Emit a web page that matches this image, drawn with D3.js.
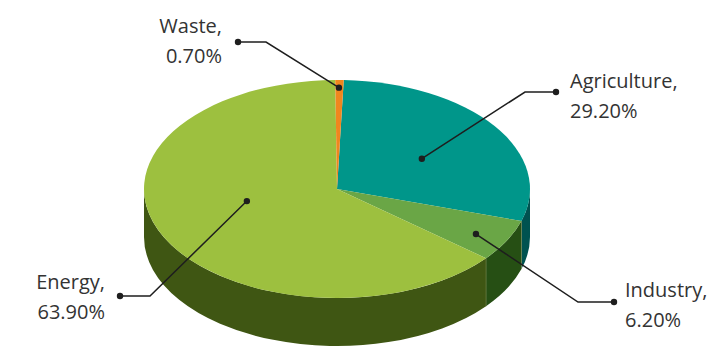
<!DOCTYPE html>
<html>
<head>
<meta charset="utf-8">
<script src="https://cdn.jsdelivr.net/npm/d3@7/dist/d3.min.js"></script>
<style>
  html, body { margin: 0; padding: 0; background: #ffffff; }
  svg { display: block; }
</style>
</head>
<body>
<div id="chart"></div>
<script>
// ---- data ----
const categories = ["Agriculture", "Industry", "Energy", "Waste"];
const shares = [29.2, 6.2, 63.9, 0.7];
const valueLabels = ["29.20%", "6.20%", "63.90%", "0.70%"];

// ---- styles ----
const topColors  = ["#00968a", "#6aa646", "#9dc03f", "#f0861e"];
const sideColors = ["#005250", "#264f14", "#3f5613", "#8a4a10"];

// ---- layout ----
const W = 709, H = 350;
const cx = 337, cy = 189, rx = 193, ry = 109, depth = 48;
const startDeg = 2;

// callout layout per slice: anchor (fraction of slice angle, radial fraction), elbow, end, text
const callouts = [
  { af: 0.53, rf: 0.52, elbow: [525, 92],  end: [556, 92],  tx: 570, ty: 88,  anchor: "start" },
  { af: 0.57, rf: 0.83, elbow: [578, 302], end: [614, 302], tx: 625, ty: 297, anchor: "start" },
  { af: 0.553, rf: 0.48, elbow: [150, 296], end: [120, 296], tx: 105, ty: 289, anchor: "end" },
  { af: 0.45, rf: 0.93, elbow: [266, 42],  end: [238, 42],  tx: 222, ty: 33,  anchor: "end" }
];

const svg = d3.select("#chart").append("svg").attr("width", W).attr("height", H);

const pie = d3.pie().sort(null)
  .startAngle(startDeg * Math.PI / 180)
  .endAngle(startDeg * Math.PI / 180 + 2 * Math.PI);
const arcs = pie(shares);

const pt = (a, r = 1, dy = 0) => [cx + rx * r * Math.sin(a), cy - ry * r * Math.cos(a) + dy];

function topPath(a0, a1) {
  const p0 = pt(a0), p1 = pt(a1);
  const large = (a1 - a0) > Math.PI ? 1 : 0;
  return `M${cx},${cy}L${p0[0]},${p0[1]}A${rx},${ry} 0 ${large} 1 ${p1[0]},${p1[1]}Z`;
}
function sidePath(a0, a1) {
  const p0 = pt(a0), p1 = pt(a1), q1 = pt(a1, 1, depth), q0 = pt(a0, 1, depth);
  const large = (a1 - a0) > Math.PI ? 1 : 0;
  return `M${p0[0]},${p0[1]}A${rx},${ry} 0 ${large} 1 ${p1[0]},${p1[1]}` +
         `L${q1[0]},${q1[1]}A${rx},${ry} 0 ${large} 0 ${q0[0]},${q0[1]}Z`;
}

// front side faces (visible between 90deg and 270deg)
const lo = Math.PI / 2, hi = 3 * Math.PI / 2;
const sides = svg.append("g");
arcs.forEach((d, i) => {
  const segs = [];
  for (const k of [0, 2 * Math.PI]) {
    const a0 = Math.max(d.startAngle, lo + k), a1 = Math.min(d.endAngle, hi + k);
    if (a1 > a0) segs.push([a0, a1]);
  }
  segs.forEach(([a0, a1]) => {
    sides.append("path").attr("d", sidePath(a0, a1)).attr("fill", sideColors[i]);
    // thin light edge at slice boundary on side
    const b = pt(a0), bb = pt(a0, 1, depth);
    if (a0 > lo + 0.001 && a0 < hi - 0.001) {
      sides.append("line").attr("x1", b[0]).attr("y1", b[1]).attr("x2", bb[0]).attr("y2", bb[1])
        .attr("stroke", "#7a8a50").attr("stroke-width", 0.8).attr("opacity", 0.7);
    }
  });
});

// top faces
const tops = svg.append("g");
arcs.forEach((d, i) => {
  tops.append("path").attr("d", topPath(d.startAngle, d.endAngle)).attr("fill", topColors[i]);
});

// callouts
const lab = svg.append("g");
arcs.forEach((d, i) => {
  const c = callouts[i];
  const a = d.startAngle + (d.endAngle - d.startAngle) * c.af;
  const p = pt(a, c.rf);
  lab.append("polyline")
    .attr("points", [p, c.elbow, c.end].map(q => q.join(",")).join(" "))
    .attr("fill", "none").attr("stroke", "#1e1e1e").attr("stroke-width", 1.5);
  lab.append("circle").attr("cx", p[0]).attr("cy", p[1]).attr("r", 3.2).attr("fill", "#1e1e1e");
  lab.append("circle").attr("cx", c.end[0]).attr("cy", c.end[1]).attr("r", 3.2).attr("fill", "#1e1e1e");
  const t = lab.append("text")
    .attr("x", c.tx).attr("y", c.ty)
    .attr("text-anchor", c.anchor)
    .attr("font-family", "'Open Sans', 'Noto Sans', sans-serif")
    .attr("font-size", 20).attr("fill", "#333333");
  t.append("tspan").attr("x", c.tx).text(categories[i] + ",");
  t.append("tspan").attr("x", c.tx).attr("dy", 30).text(valueLabels[i]);
});
</script>
</body>
</html>
